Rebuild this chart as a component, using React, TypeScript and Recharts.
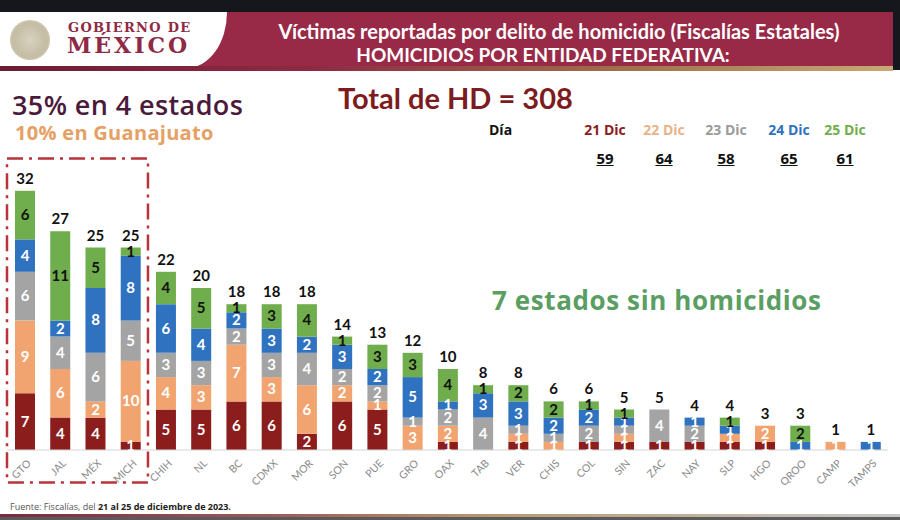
import React from 'react';
import { BarChart, Bar, XAxis, YAxis, LabelList, ReferenceArea } from 'recharts';

// Entidades y víctimas por día (21 al 25 de diciembre)
const states = ['GTO', 'JAL', 'MÉX', 'MICH', 'CHIH', 'NL', 'BC', 'CDMX', 'MOR', 'SON', 'PUE', 'GRO', 'OAX', 'TAB', 'VER', 'CHIS', 'COL', 'SIN', 'ZAC', 'NAY', 'SLP', 'HGO', 'QROO', 'CAMP', 'TAMPS'];
const dic21 = [7, 4, 4, 1, 5, 5, 6, 6, 2, 6, 5, 0, 1, 0, 1, 0, 1, 1, 1, 1, 1, 1, 0, 0, 0];
const dic22 = [9, 6, 2, 10, 4, 3, 7, 3, 6, 2, 1, 3, 2, 0, 1, 1, 0, 1, 0, 0, 1, 2, 0, 1, 0];
const dic23 = [6, 4, 6, 5, 3, 3, 2, 3, 4, 2, 2, 1, 2, 4, 1, 1, 2, 1, 4, 2, 0, 0, 0, 0, 0];
const dic24 = [4, 2, 8, 8, 6, 4, 2, 3, 2, 3, 2, 5, 1, 3, 3, 2, 2, 1, 0, 1, 1, 0, 1, 0, 1];
const dic25 = [6, 11, 5, 1, 4, 5, 1, 3, 4, 1, 3, 3, 4, 1, 2, 2, 1, 1, 0, 0, 1, 0, 2, 0, 0];

const dayLabels = ['21 Dic', '22 Dic', '23 Dic', '24 Dic', '25 Dic'];
const dayTotals = [59, 64, 58, 65, 61];
const dayKeys = ['d21', 'd22', 'd23', 'd24', 'd25'];
const dayColors = ['#8b1d1d', '#f1a470', '#a4a4a4', '#2f72c0', '#70ad4c'];
const legendColors = ['#8b1d1d', '#e9b38a', '#9a9a9a', '#2f72c0', '#70ad4c'];
const labelColors = ['#fff', '#fff', '#fff', '#fff', '#111'];
const legendX = [605, 664, 726, 789, 845];

const series = [dic21, dic22, dic23, dic24, dic25];

// el total va sobre el segmento más alto que no sea cero
const chartData = states.map((name, i) => {
  const row: any = { name };
  const vals = series.map((s) => s[i]);
  const total = vals.reduce((a, b) => a + b, 0);
  let topIdx = 0;
  vals.forEach((v, j) => { if (v > 0) topIdx = j; });
  dayKeys.forEach((k, j) => {
    row[k] = vals[j];
    row['top' + j] = j === topIdx ? total : null;
  });
  return row;
});

const FONT = 'Lato, "Liberation Sans", sans-serif';
const FONT2 = '"Open Sans", "Noto Sans", sans-serif';

const StateTick = (props: any) => {
  const { x, y, payload } = props;
  const tx = x + 7;
  const ty = y + 6;
  return (
    <text x={tx} y={ty} textAnchor="end" transform={`rotate(-45, ${tx}, ${ty})`}
      fontSize={10.5} fill="#8a8a8a" fontFamily={FONT}>
      {payload.value}
    </text>
  );
};

const segmentLabel = (color: string) => (props: any) => {
  const { x, y, width, height, value } = props;
  if (!value) return null;
  return (
    <text x={x + width / 2} y={y + height / 2 + 5} textAnchor="middle"
      fontSize={15} fontWeight="bold" fill={color} fontFamily={FONT}>
      {value}
    </text>
  );
};

const totalLabel = (props: any) => {
  const { x, y, width, value } = props;
  if (value === null || value === undefined) return null;
  return (
    <text x={x + width / 2} y={y - 7} textAnchor="middle"
      fontSize={15} fontWeight="bold" fill="#111" fontFamily={FONT}>
      {value}
    </text>
  );
};

const App: React.FC = () => {
  return (
    <div style={{ position: 'absolute', left: 0, top: 0, width: 900, height: 520, background: '#fff', overflow: 'hidden' }}>
      {/* encabezado */}
      <div style={{ position: 'absolute', left: 0, top: 0, width: 900, height: 12, background: '#15171c' }} />
      <div style={{ position: 'absolute', left: 0, top: 12, width: 893, height: 56, background: '#982a47' }} />
      <div style={{ position: 'absolute', left: 893, top: 0, width: 7, height: 70, background: '#15171c' }} />
      <div style={{
        position: 'absolute', left: 0, top: 12, width: 227, height: 56, background: '#fff',
        borderBottomRightRadius: '40px 56px',
      }} />
      <div style={{
        position: 'absolute', left: 0, top: 66, width: 893, height: 5,
        background: 'linear-gradient(90deg, #6d1c32 0%, #8d2a43 35%, #a0714a 70%, #c9a877 100%)',
      }} />
      <div style={{
        position: 'absolute', left: 10, top: 20, width: 40, height: 40, borderRadius: '50%',
        background: 'radial-gradient(circle, #d8d2c0 0%, #c4bca3 60%, #e6e1d3 100%)',
      }} />
      <div style={{ position: 'absolute', left: 68, top: 20, fontFamily: '"DejaVu Serif", serif', fontWeight: 'bold', color: '#8e2a44', fontSize: 13, letterSpacing: 1.3 }}>
        GOBIERNO DE
      </div>
      <div style={{ position: 'absolute', left: 67, top: 32, fontFamily: '"DejaVu Serif", serif', fontWeight: 'bold', color: '#8e2a44', fontSize: 22, letterSpacing: 3 }}>
        MÉXICO
      </div>
      <div style={{ position: 'absolute', left: 259, width: 600, top: 19, textAlign: 'center', color: '#fff', fontFamily: FONT, fontWeight: 'bold', fontSize: 20, whiteSpace: 'nowrap' }}>
        Víctimas reportadas por delito de homicidio (Fiscalías Estatales)
      </div>
      <div style={{ position: 'absolute', left: 243, width: 600, top: 43, textAlign: 'center', color: '#fff', fontFamily: FONT, fontWeight: 'bold', fontSize: 19, whiteSpace: 'nowrap' }}>
        HOMICIDIOS POR ENTIDAD FEDERATIVA:
      </div>

      {/* textos */}
      <div style={{ position: 'absolute', left: 12, top: 86, color: '#4b1a3b', fontFamily: FONT2, fontWeight: 600, fontSize: 27, letterSpacing: 0.4, whiteSpace: 'nowrap' }}>
        35% en 4 estados
      </div>
      <div style={{ position: 'absolute', left: 15, top: 119, color: '#e5a064', fontFamily: FONT2, fontWeight: 'bold', fontSize: 20, letterSpacing: 0.3, whiteSpace: 'nowrap' }}>
        10% en Guanajuato
      </div>
      <div style={{ position: 'absolute', left: 338, top: 80, color: '#7e1b1e', fontFamily: FONT, fontWeight: 'bold', fontSize: 29, whiteSpace: 'nowrap' }}>
        Total de HD = 308
      </div>
      <div style={{ position: 'absolute', left: 492, top: 282, color: '#5b9e63', fontFamily: FONT2, fontWeight: 'bold', fontSize: 26, letterSpacing: 0.6, whiteSpace: 'nowrap' }}>
        7 estados sin homicidios
      </div>

      {/* leyenda por día */}
      <div style={{ position: 'absolute', left: 489, top: 120, fontFamily: FONT2, fontWeight: 'bold', fontSize: 14, color: '#111' }}>
        Día
      </div>
      {dayLabels.map((d, i) => (
        <div key={d} style={{
          position: 'absolute', left: legendX[i] - 30, width: 60, top: 120, textAlign: 'center',
          fontFamily: FONT2, fontWeight: 'bold', fontSize: 14, color: legendColors[i], whiteSpace: 'nowrap',
        }}>
          {d}
        </div>
      ))}
      {dayTotals.map((t, i) => (
        <div key={i} style={{
          position: 'absolute', left: legendX[i] - 30, width: 60, top: 148, textAlign: 'center',
          fontFamily: FONT2, fontWeight: 'bold', fontSize: 15, color: '#111', textDecoration: 'underline',
        }}>
          {t}
        </div>
      ))}

      <div style={{ position: 'absolute', left: 0, top: 0 }}>
        <BarChart width={900} height={520} data={chartData}
          margin={{ top: 126, right: 12, left: 7, bottom: 30 }} barSize={20}>
          <XAxis dataKey="name" height={40} interval={0} tickLine={false}
            axisLine={{ stroke: '#d4d4d4' }} tick={<StateTick />} />
          <YAxis hide domain={[0, 40]} />
          <ReferenceArea x1="GTO" x2="MICH" y1={-4} y2={36} ifOverflow="visible"
            fill="none" fillOpacity={0} stroke="#b8333a" strokeWidth={2.5} strokeDasharray="16 6 3 6" />
          {dayKeys.map((k, i) => (
            <Bar key={k} dataKey={k} stackId="a" fill={dayColors[i]} isAnimationActive={false}>
              <LabelList dataKey={k} content={segmentLabel(labelColors[i])} />
              <LabelList dataKey={'top' + i} content={totalLabel} />
            </Bar>
          ))}
        </BarChart>
      </div>

      {/* pie */}
      <div style={{ position: 'absolute', left: 10, top: 500, fontFamily: FONT2, fontSize: 9, color: '#555', whiteSpace: 'nowrap' }}>
        Fuente: Fiscalías, del <b style={{ color: '#222' }}>21 al 25 de diciembre de 2023.</b>
      </div>
      <div style={{
        position: 'absolute', left: 0, top: 514, width: 900, height: 3,
        background: 'linear-gradient(90deg, #7a2a3e 0%, #9b5a5a 30%, #b89a70 55%, #c8c8c8 100%)',
      }} />
      <div style={{ position: 'absolute', left: 0, top: 517, width: 900, height: 3, background: '#5a5a5a' }} />
    </div>
  );
};

export default App;
